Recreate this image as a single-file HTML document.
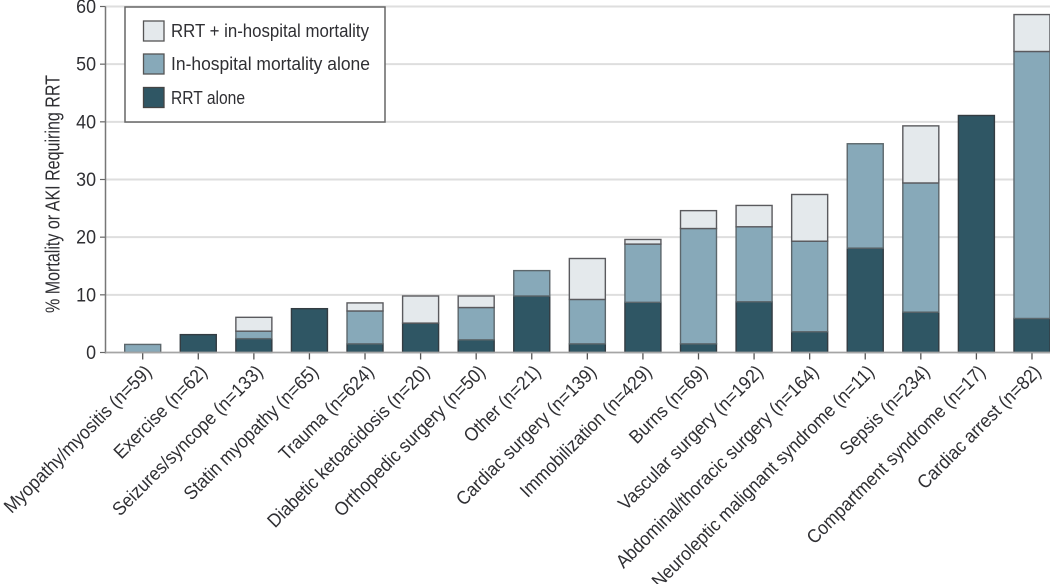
<!DOCTYPE html>
<html lang="en">
<head>
<meta charset="utf-8">
<title>Mortality or AKI requiring RRT by cause</title>
<style>
html,body{margin:0;padding:0;background:#fff;width:1050px;height:584px;overflow:hidden}
svg{display:block}
text{font-family:"Liberation Sans","DejaVu Sans",sans-serif;fill:#2f2f33}
</style>
</head>
<body>
<svg id="chart" width="1050" height="584" viewBox="0 0 1050 584" xmlns="http://www.w3.org/2000/svg">
  <g id="grid"></g>
  <g id="bars"></g>
  <g id="axes"></g>
  <text transform="translate(59.5,194) rotate(-90)" text-anchor="middle" font-size="20" textLength="238" lengthAdjust="spacingAndGlyphs">% Mortality or AKI Requiring RRT</text>
  <g>
    <rect x="125" y="7" width="260" height="115" fill="#fff" stroke="#666" stroke-width="1.5"/>
    <rect x="143.5" y="21" width="20.5" height="20" fill="#e4e9ec" stroke="#555" stroke-width="1.3"/>
    <text x="171" y="37" font-size="18.5" textLength="198" lengthAdjust="spacingAndGlyphs">RRT + in-hospital mortality</text>
    <rect x="143.5" y="54" width="20.5" height="20" fill="#87a9b9" stroke="#555" stroke-width="1.3"/>
    <text x="171" y="70" font-size="18.5" textLength="199" lengthAdjust="spacingAndGlyphs">In-hospital mortality alone</text>
    <rect x="143.5" y="87.5" width="20.5" height="20" fill="#2f5664" stroke="#444" stroke-width="1.3"/>
    <text x="171" y="104" font-size="18.5" textLength="74" lengthAdjust="spacingAndGlyphs">RRT alone</text>
  </g>
</svg>
<script>
const categories = ["Myopathy/myositis (n=59)","Exercise (n=62)","Seizures/syncope (n=133)","Statin myopathy (n=65)","Trauma (n=624)","Diabetic ketoacidosis (n=20)","Orthopedic surgery (n=50)","Other (n=21)","Cardiac surgery (n=139)","Immobilization (n=429)","Burns (n=69)","Vascular surgery (n=192)","Abdominal/thoracic surgery (n=164)","Neuroleptic malignant syndrome (n=11)","Sepsis (n=234)","Compartment syndrome (n=17)","Cardiac arrest (n=82)"];
const rrtAlone = [0,3.1,2.4,7.6,1.5,5.1,2.2,9.8,1.5,8.7,1.5,8.8,3.6,18.1,7.0,41.1,5.9];
const mortalityAlone = [1.4,0,1.3,0,5.7,0,5.6,4.4,7.7,10.1,20.0,13.0,15.7,18.1,22.4,0,46.3];
const rrtPlusMortality = [0,0,2.4,0,1.4,4.7,2.0,0,7.1,0.8,3.1,3.7,8.1,0,9.9,0,6.4];
const yTicks = [0,10,20,30,40,50,60];

const NS = "http://www.w3.org/2000/svg";
const plot = {left:105.5, right:1050, top:6.5, bottom:352.5, first:142.7, step:55.58, barW:36, yMax:60};
const yScale = v => plot.bottom - (v / plot.yMax) * (plot.bottom - plot.top);
const xScale = i => plot.first + i * plot.step;
function make(tag, attrs, parent){
  const el = document.createElementNS(NS, tag);
  for (const k in attrs) el.setAttribute(k, attrs[k]);
  parent.appendChild(el);
  return el;
}
const gridG = document.getElementById("grid");
const barsG = document.getElementById("bars");
const axesG = document.getElementById("axes");

yTicks.forEach(t => {
  const y = yScale(t);
  if (t > 0) {
    const g = make("line", {x1:plot.left, x2:plot.right, y1:y, y2:y, stroke:"#dedede", "stroke-width":2}, gridG);
    
    
  }
  const tick = make("line", {x1:100, x2:plot.left, y1:y, y2:y, stroke:"#666", "stroke-width":1.2}, axesG);
  
  
  const label = make("text", {transform:"translate(96," + (y + 6.5) + ") scale(0.94,1)", "text-anchor":"end", "font-size":19}, axesG);
  
  
  label.textContent = t;
});

const yAxis = make("line", {x1:plot.left, x2:plot.left, y1:plot.top, y2:plot.bottom + 1, stroke:"#777", "stroke-width":1.5}, axesG);



const segStyles = [
  {fill:"#2f5664", stroke:"#333c42"},
  {fill:"#87a9b9", stroke:"#5c676c"},
  {fill:"#e4e9ec", stroke:"#5a5a5e"}
];
categories.forEach((cat, i) => {
  const values = [rrtAlone[i], mortalityAlone[i], rrtPlusMortality[i]];
  let base = 0;
  const cx = xScale(i);
  values.forEach((v, s) => {
    if (v <= 0) { return; }
    const y1 = yScale(base + v), y0 = yScale(base);
    const r = make("rect", {x:cx - plot.barW / 2, y:y1, width:plot.barW, height:y0 - y1, fill:segStyles[s].fill, stroke:segStyles[s].stroke, "stroke-width":1.4}, barsG);
    
    
    base += v;
  });
  const tick = make("line", {x1:cx, x2:cx, y1:plot.bottom, y2:plot.bottom + 7, stroke:"#555", "stroke-width":1.3}, axesG);
  
  
  const label = make("text", {transform:"translate(" + (cx + 10) + ",373) rotate(-45) scale(0.92,1)", "text-anchor":"end", "font-size":19}, axesG);
  
  
  label.textContent = cat;
});

const xAxis = make("line", {x1:plot.left, x2:plot.right, y1:plot.bottom, y2:plot.bottom, stroke:"#a5a5a5", "stroke-width":1.8}, axesG);


</script>
</body>
</html>
